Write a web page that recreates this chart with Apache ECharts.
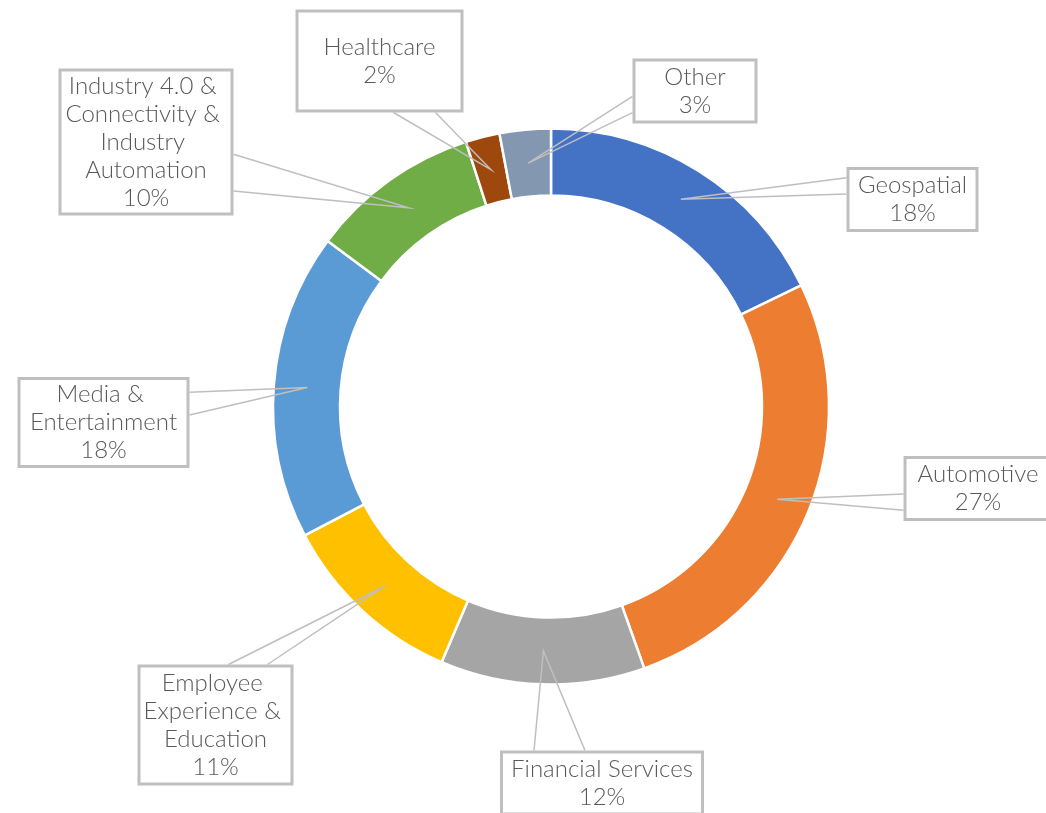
<!DOCTYPE html>
<html>
<head>
<meta charset="utf-8">
<script src="https://cdn.jsdelivr.net/npm/echarts@6/dist/echarts.min.js"></script>
<style>
  html, body { margin: 0; padding: 0; background: #fff; }
  #chart { width: 1046px; height: 813px; }
</style>
</head>
<body>
<div id="chart"></div>
<script>
// Doughnut with Excel-style wedge callouts

const categories = [
  'Geospatial',
  'Automotive',
  'Financial Services',
  'Employee Experience & Education',
  'Media & Entertainment',
  'Industry 4.0 & Connectivity & Industry Automation',
  'Healthcare',
  'Other'
]
const shares = [18, 27, 12, 11, 18, 10, 2, 3]
const colors = ['#4472C4', '#ED7D31', '#A5A5A5', '#FFC000', '#5B9BD5', '#70AD47', '#9E480E', '#8497B0']

// ring geometry (px)
const CX = 551, CY = 406.5, R_IN = 211, R_OUT = 278
const R_TIP = (R_IN + R_OUT) / 2

// callout boxes: centre, outer width, vertical padding
const boxes = [
  { cx: 912.5, cy: 199.5, w: 129, py: 3 },
  { cx: 978, cy: 488.5, w: 146, py: 3 },
  { cx: 602, cy: 783, w: 201, py: 3 },
  { cx: 215.5, cy: 725, w: 153, py: 3 },
  { cx: 103.5, cy: 422.5, w: 169, py: 2 },
  { cx: 146, cy: 142, w: 172, py: 2 },
  { cx: 379.5, cy: 61, w: 165, py: 22 },
  { cx: 695, cy: 91, w: 122, py: 3 }
]

const total = shares.reduce((a, b) => a + b, 0)
const midAngles = []
let acc = 0
shares.forEach(v => {
  midAngles.push((acc + v / 2) / total * Math.PI * 2)
  acc += v
})

// wedge base on the box edge, like the OOXML wedgeRectCallout
function wedgePoints(i, rect) {
  const a = midAngles[i]
  const tip = [CX + R_TIP * Math.sin(a), CY - R_TIP * Math.cos(a)]
  const b = boxes[i]
  const w = rect.width, h = rect.height
  const x0 = b.cx - w / 2, y0 = b.cy - h / 2
  const dx = tip[0] - b.cx, dy = tip[1] - b.cy
  const dq = dx * h / w
  let p1, p2
  if (Math.abs(dy) > Math.abs(dq)) {
    const y = dy > 0 ? y0 + h : y0
    const g1 = dx > 0 ? 7 : 2, g2 = dx > 0 ? 10 : 5
    p1 = [x0 + w * g1 / 12, y]
    p2 = [x0 + w * g2 / 12, y]
  } else {
    const x = dx > 0 ? x0 + w : x0
    const g1 = dy > 0 ? 7 : 2, g2 = dy > 0 ? 10 : 5
    p1 = [x, y0 + h * g1 / 12]
    p2 = [x, y0 + h * g2 / 12]
  }
  return [p1, tip, p2]
}

const ringData = categories.map((name, i) => ({
  name,
  value: shares[i],
  itemStyle: { color: colors[i] }
}))

const chart = echarts.init(document.getElementById('chart'), null, { renderer: 'canvas' })

// viewport reaches past the right/bottom edge so callouts there aren't squeezed
const viewport = { left: 0, top: 0, right: -200, bottom: -200 }

chart.setOption({
  backgroundColor: '#fff',
  animation: false,
  series: [
    {
      // the ring itself
      type: 'pie',
      z: 2,
      ...viewport,
      center: [CX, CY],
      radius: [R_IN, R_OUT],
      startAngle: 90,
      clockwise: true,
      silent: true,
      emphasis: { disabled: true },
      itemStyle: { borderColor: '#fff', borderWidth: 2.5 },
      label: { show: false },
      labelLine: { show: false },
      data: ringData
    },
    {
      // transparent copy on top, carrying the callouts so the wedges sit above the ring
      type: 'pie',
      z: 3,
      ...viewport,
      center: [CX, CY],
      radius: [R_IN, R_OUT],
      startAngle: 90,
      clockwise: true,
      silent: true,
      avoidLabelOverlap: false,
      emphasis: { disabled: true },
      itemStyle: { color: 'rgba(0,0,0,0)', borderWidth: 0 },
      label: {
        show: true,
        position: 'outside',
        formatter: p => p.name + '\n' + Math.round(p.value / total * 100) + '%',
        fontFamily: 'Lato, "Open Sans", sans-serif',
        fontWeight: 300,
        fontSize: 24,
        lineHeight: 28,
        color: '#595959',
        align: 'center',
        overflow: 'break',
        borderColor: '#BFBFBF',
        borderWidth: 1.5,
        backgroundColor: 'transparent'
      },
      labelLine: {
        show: true,
        showAbove: true,
        length: 10,
        length2: 10,
        lineStyle: { color: '#BFBFBF', width: 1.5 }
      },
      labelLayout: params => {
        const i = params.dataIndex
        const b = boxes[i]
        return {
          x: b.cx,
          y: b.cy,
          align: 'center',
          verticalAlign: 'middle',
          labelLinePoints: wedgePoints(i, params.labelRect)
        }
      },
      data: categories.map((name, i) => ({
        name,
        value: shares[i],
        label: {
          width: boxes[i].w - 4,
          padding: [boxes[i].py, 2]
        }
      }))
    }
  ]
})
</script>
</body>
</html>
